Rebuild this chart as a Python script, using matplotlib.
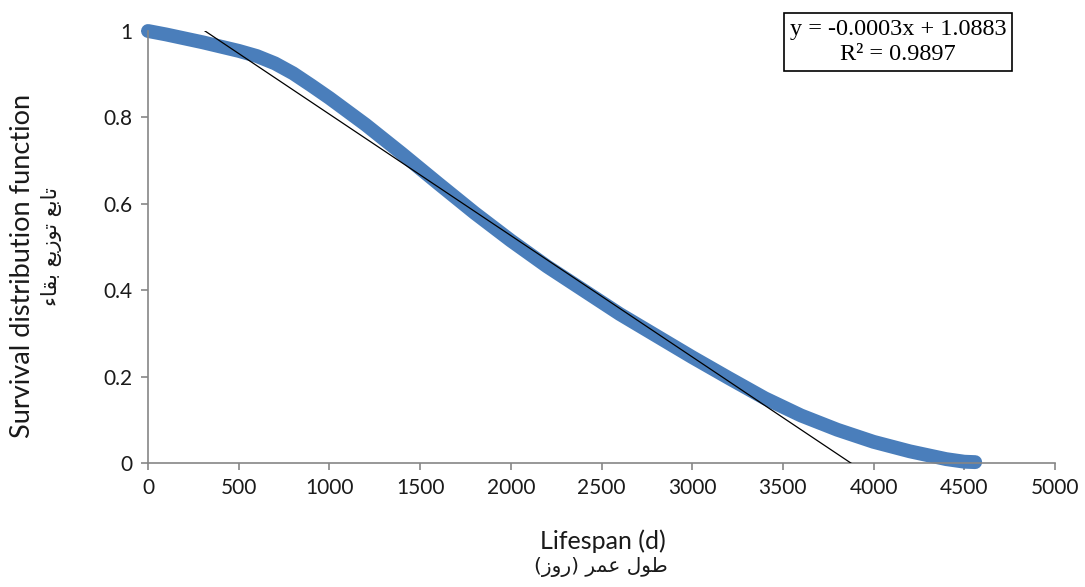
import numpy as np
import matplotlib
matplotlib.use('Agg')
import matplotlib.pyplot as plt

# survival curve
lifespan = [0, 100, 200, 300, 400, 500, 600, 700, 800, 900, 1000, 1200, 1400,
            1600, 1800, 2000, 2200, 2400, 2600, 2800, 3000, 3200, 3400, 3600,
            3800, 4000, 4200, 4400, 4500, 4560]
survival = [1.0, 0.992, 0.983, 0.974, 0.964, 0.954, 0.942, 0.925, 0.902, 0.874,
            0.845, 0.783, 0.716, 0.647, 0.579, 0.515, 0.455, 0.40, 0.345, 0.295,
            0.245, 0.197, 0.150, 0.110, 0.077, 0.049, 0.027, 0.009, 0.003, 0.002]

# linear trend line (Excel rounds the displayed slope)
slope = -0.0002809
intercept = 1.0883
eq_text = 'y = -0.0003x + 1.0883\nR² = 0.9897'

xticks = [0, 500, 1000, 1500, 2000, 2500, 3000, 3500, 4000, 4500, 5000]
yticks = [0, 0.2, 0.4, 0.6, 0.8, 1]

# Persian labels in visual order with presentation forms (no shaping in matplotlib)
fa_ylabel = ('\uFE80\uFE8E\uFED8\uFE91 '
             '\uFECA\uFEF3\uFEAF\uFEEE\uFE97 '
             '\uFECA\uFE91\uFE8E\uFE97')
fa_xlabel = ('(\uFEAF\uFEED\uFEAD) '
             '\uFEAE\uFEE4\uFECB '
             '\uFEDD\uFEEE\uFEC3')

blue = '#4A7EBB'
grey = '#868686'
ink = '#1a1a1a'

fig = plt.figure(figsize=(10.85, 5.87), dpi=100)
ax = fig.add_axes([148/1085, 1 - 463/587, (1055-148)/1085, (463-31)/587])

ax.plot(lifespan, survival, color=blue, lw=10, solid_capstyle='round',
        solid_joinstyle='round', clip_on=False, zorder=2)

xt = np.array([lifespan[0], lifespan[-1]])
ax.plot(xt, slope*xt + intercept, color='black', lw=0.9, zorder=3)

ax.set_xlim(0, 5000)
ax.set_ylim(0, 1)
ax.set_xticks(xticks)
ax.set_yticks(yticks)
ax.set_xticklabels([str(v) for v in xticks])
ax.set_yticklabels(['0', '0.2', '0.4', '0.6', '0.8', '1'])

for s in ['top', 'right']:
    ax.spines[s].set_visible(False)
for s in ['left', 'bottom']:
    ax.spines[s].set_color(grey)
    ax.spines[s].set_linewidth(1.2)
ax.tick_params(axis='both', direction='out', length=5, width=1.2, color=grey,
               labelsize=15, labelcolor=ink, pad=6)
for lab in ax.get_xticklabels() + ax.get_yticklabels():
    lab.set_family('Lato')

fig.text(603/1085, 1 - 541/587, 'Lifespan (d)', ha='center', va='center',
         fontsize=18, family='Lato', color=ink)
fig.text(601/1085, 1 - 567/587, fa_xlabel, ha='center', va='center',
         fontsize=14.5, family='DejaVu Sans', color=ink)
fig.text(23/1085, 1 - 266/587, 'Survival distribution function', ha='center',
         va='center', rotation=90, fontsize=19.5, family='Lato', color=ink)
fig.text(52/1085, 1 - 247/587, fa_ylabel, ha='center', va='center',
         rotation=90, fontsize=15, family='DejaVu Sans', color=ink)

fig.text(898/1085, 1 - 42/587, eq_text, ha='center', va='center',
         fontsize=17.5, family='Liberation Serif', linespacing=1.3,
         bbox=dict(boxstyle='square,pad=0.22', fc='white', ec='black', lw=1.2))

fig.savefig('out.png', dpi=100)
